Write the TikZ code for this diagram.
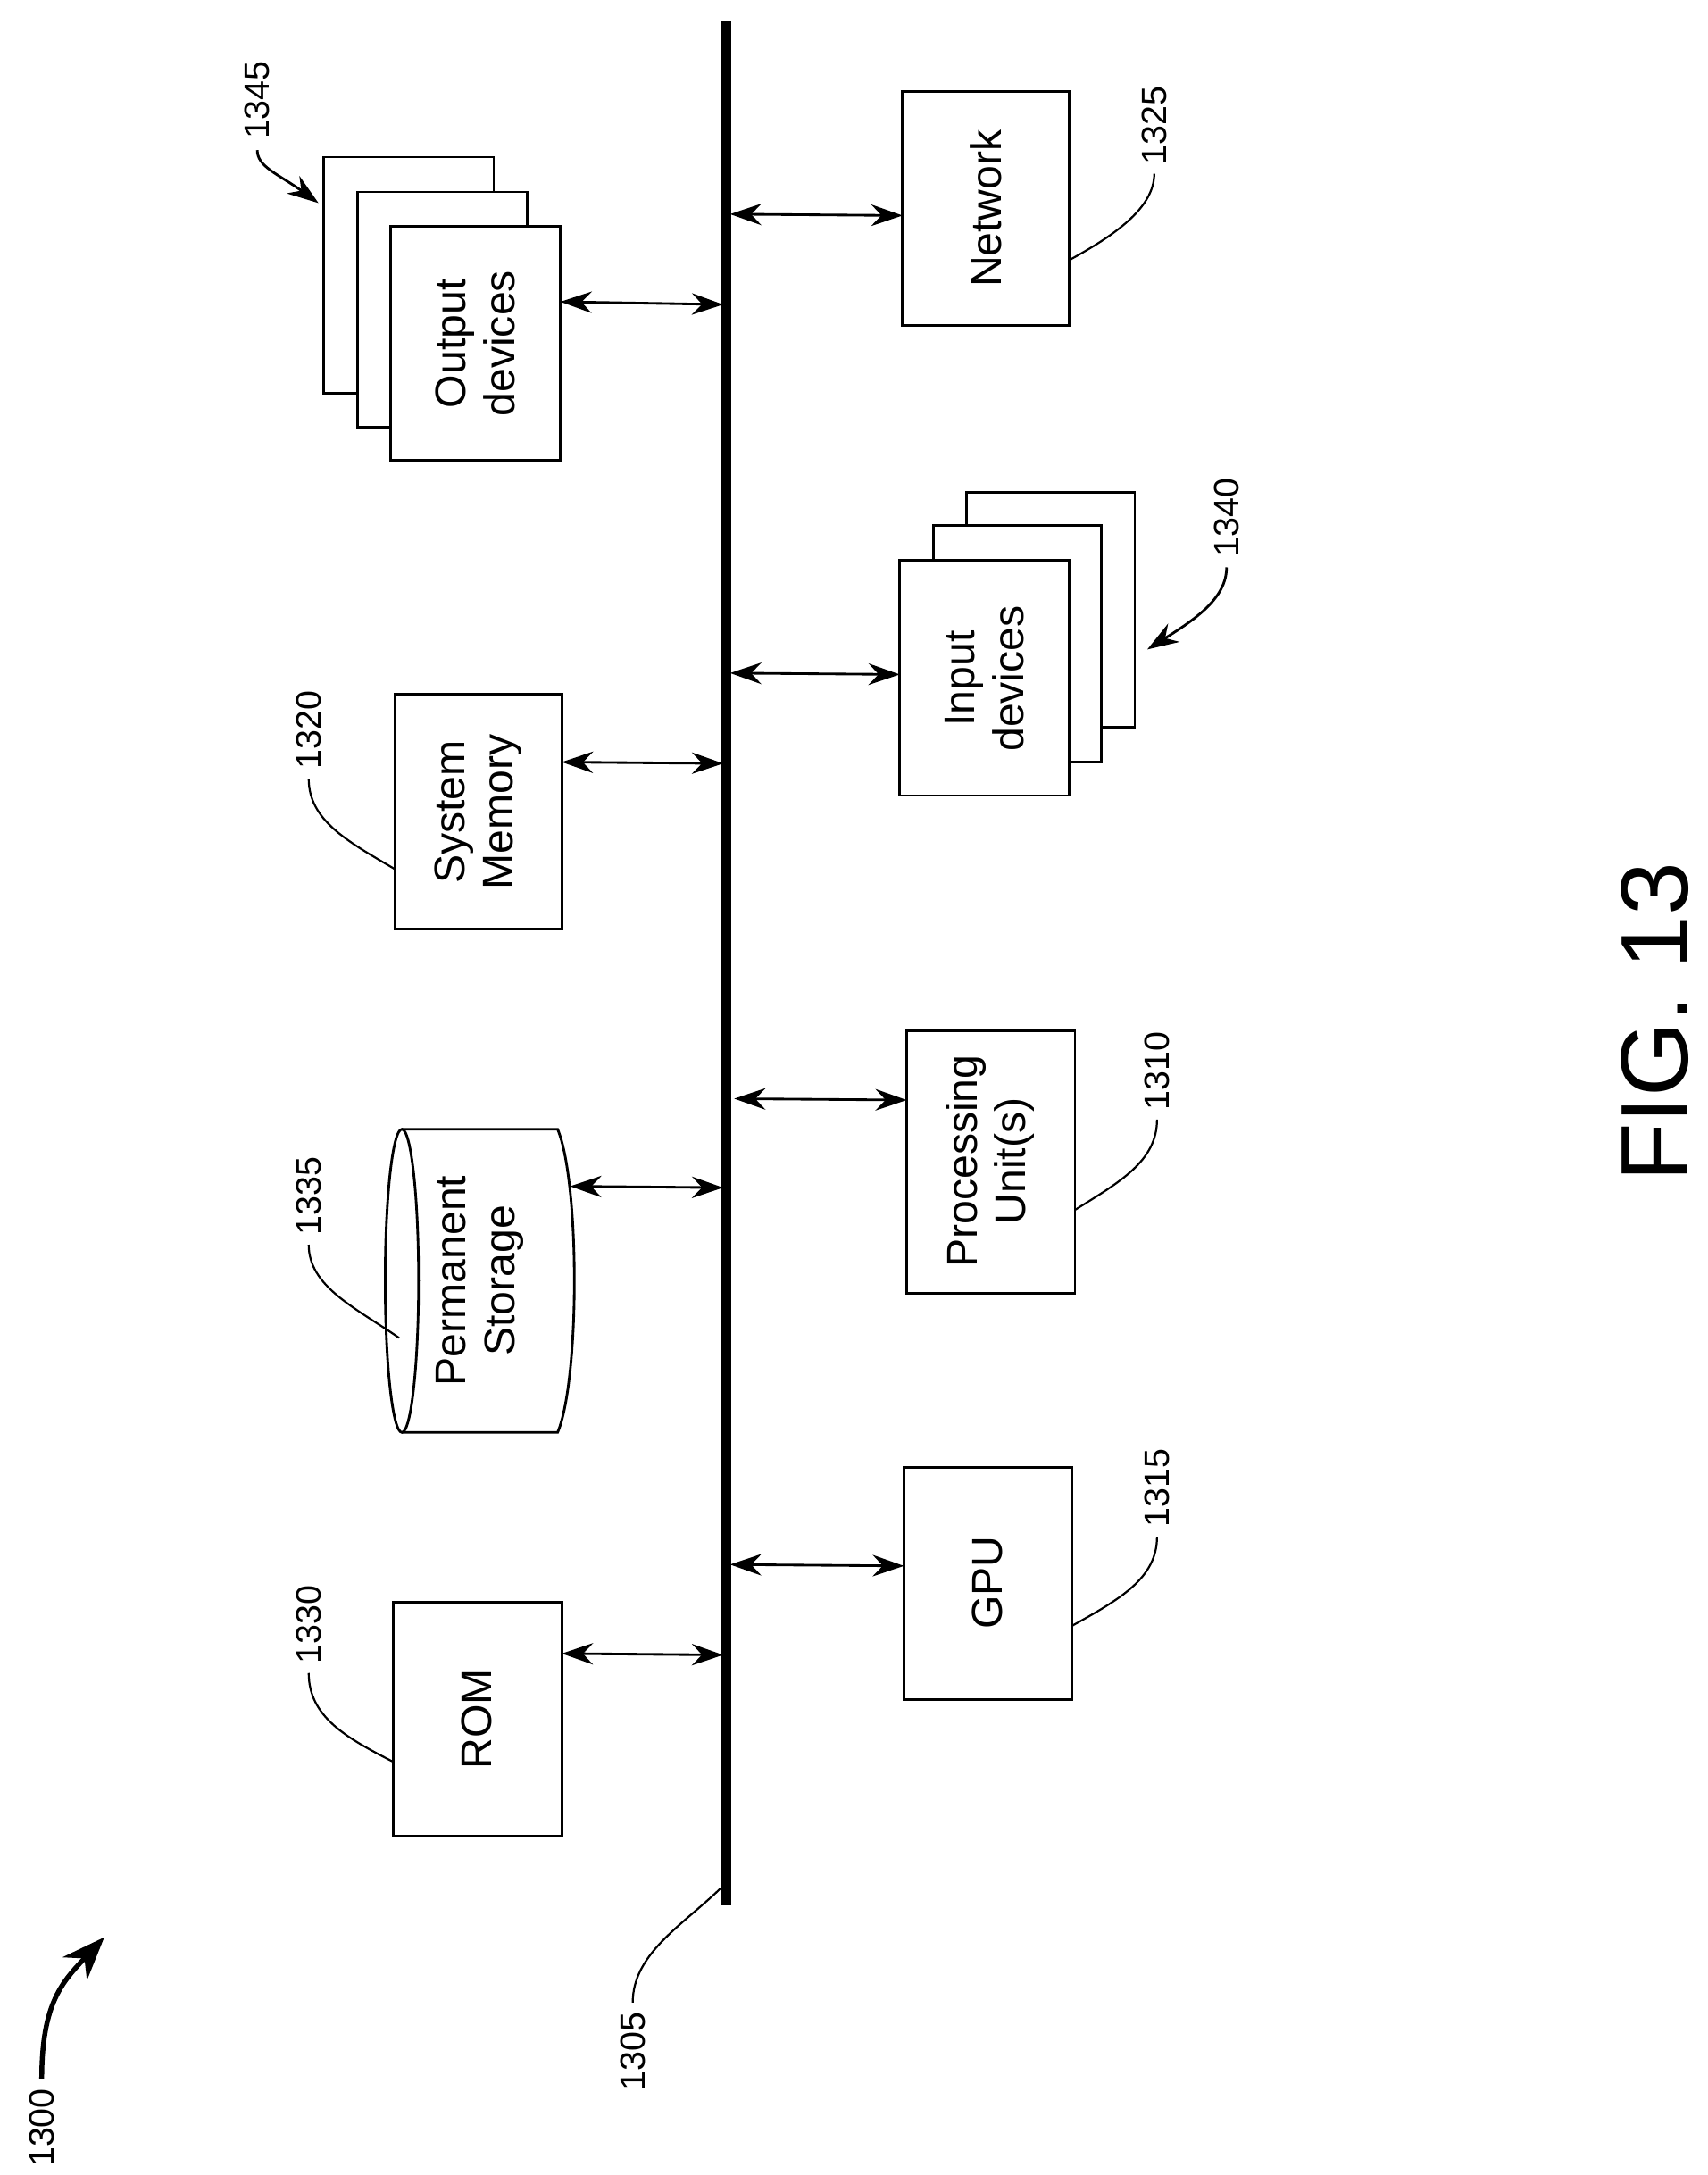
\documentclass[tikz,border=0pt]{standalone}
\usepackage{fontspec}
\setmainfont{Liberation Sans}
\usetikzlibrary{arrows.meta}
\begin{document}
\begin{tikzpicture}[x=0.05cm,y=-0.05cm,
  box/.style={draw,line width=2.6pt,fill=white},
  txt/.style={rotate=90,align=center,font=\fontsize{44}{50}\selectfont},
  lab/.style={rotate=90,font=\fontsize{36}{40}\selectfont},
  conn/.style={line width=2.6pt,{Stealth[length=32pt,width=22pt]}-{Stealth[length=32pt,width=22pt]}},
  lead/.style={line width=2pt},
  leadarr/.style={line width=2.6pt,-{Stealth[length=32pt,width=22pt]}}]
\useasboundingbox (0,0) rectangle (1228,1564);
% bus
\draw[line width=11pt] (522,15) -- (522,1370);
\coordinate (bus1) at (520,219); \coordinate (bus2) at (525,154);
\coordinate (bus3) at (525,484); \coordinate (bus4) at (520,549);
\coordinate (bus5) at (520,854); \coordinate (bus6) at (528,790);
\coordinate (bus7) at (520,1190); \coordinate (bus8) at (525,1125);
% output devices
\draw[box] (233,113) rectangle (355,283);
\draw[box] (257,138) rectangle (379,307);
\draw[box] (281,163) rectangle (403,331);
\node[txt] (out) at (342,247) {Output\\devices};
\coordinate (outE) at (403,217);
\draw[conn] (outE) -- (bus1);
\node[lab] (l1345) at (185,72) {1345};
\draw[leadarr] (185,108) .. controls (185,120) and (200,125) .. (229,146);
% network
\draw[box] (649,66) rectangle (769,234);
\node[txt] (net) at (709,150) {Network};
\coordinate (netW) at (649,155);
\draw[conn] (bus2) -- (netW);
\node[lab] (l1325) at (830,90) {1325};
\draw[lead] (830,125) .. controls (830,150) and (800,170) .. (769,187);
% input devices
\draw[box] (695,354) rectangle (816,523);
\draw[box] (671,378) rectangle (792,548);
\draw[box] (647,403) rectangle (769,572);
\node[txt] (in) at (708,488) {Input\\devices};
\coordinate (inW) at (647,485);
\draw[conn] (bus3) -- (inW);
\node[lab] (l1340) at (882,372) {1340};
\draw[leadarr] (882,408) .. controls (882,430) and (860,445) .. (825,467);
% system memory
\draw[box] (284,499) rectangle (404,668);
\node[txt] (mem) at (344,584) {System\\Memory};
\coordinate (memE) at (404,548);
\draw[conn] (memE) -- (bus4);
\node[lab] (l1320) at (222,525) {1320};
\draw[lead] (222,560) .. controls (222,590) and (250,605) .. (284,625);
% permanent storage
\draw[line width=2.6pt,fill=white] (289,812) -- (401,812) .. controls (417,850) and (417,992) .. (401,1030) -- (289,1030);
\draw[line width=2.6pt] (289,921) ellipse [x radius=12, y radius=109];
\node[txt] (ps) at (345,921) {Permanent\\Storage};
\coordinate (psE) at (410,853);
\draw[conn] (psE) -- (bus5);
\node[lab] (l1335) at (222,860) {1335};
\draw[lead] (222,895) .. controls (222,925) and (255,940) .. (287,962);
% processing units
\draw[box] (652,741) rectangle (773,930);
\node[txt] (pu) at (712,835) {Processing\\Unit(s)};
\coordinate (puW) at (652,791);
\draw[conn] (bus6) -- (puW);
\node[lab] (l1310) at (832,770) {1310};
\draw[lead] (832,805) .. controls (832,835) and (805,850) .. (773,870);
% ROM
\draw[box] (283,1152) rectangle (404,1320);
\node[txt] (rom) at (343,1236) {ROM};
\coordinate (romE) at (404,1189);
\draw[conn] (romE) -- (bus7);
\node[lab] (l1330) at (222,1168) {1330};
\draw[lead] (222,1203) .. controls (222,1235) and (250,1250) .. (283,1267);
% GPU
\draw[box] (650,1055) rectangle (771,1222);
\node[txt] (gpu) at (710,1138) {GPU};
\coordinate (gpuW) at (650,1126);
\draw[conn] (bus8) -- (gpuW);
\node[lab] (l1315) at (832,1070) {1315};
\draw[lead] (832,1105) .. controls (832,1135) and (805,1150) .. (771,1169);
% 1305
\node[lab] (l1305) at (455,1475) {1305};
\draw[lead] (455,1440) .. controls (455,1405) and (490,1385) .. (518,1358);
% 1300
\node[lab] (l1300) at (30,1530) {1300};
\draw[line width=5pt,-{Stealth[length=44pt,width=34pt]}] (30,1495) .. controls (30,1440) and (45,1425) .. (75,1393);
% FIG
\node[rotate=90,font=\fontsize{98}{105}\selectfont] (fig) at (1190,735) {FIG. 13};
\end{tikzpicture}
\end{document}
